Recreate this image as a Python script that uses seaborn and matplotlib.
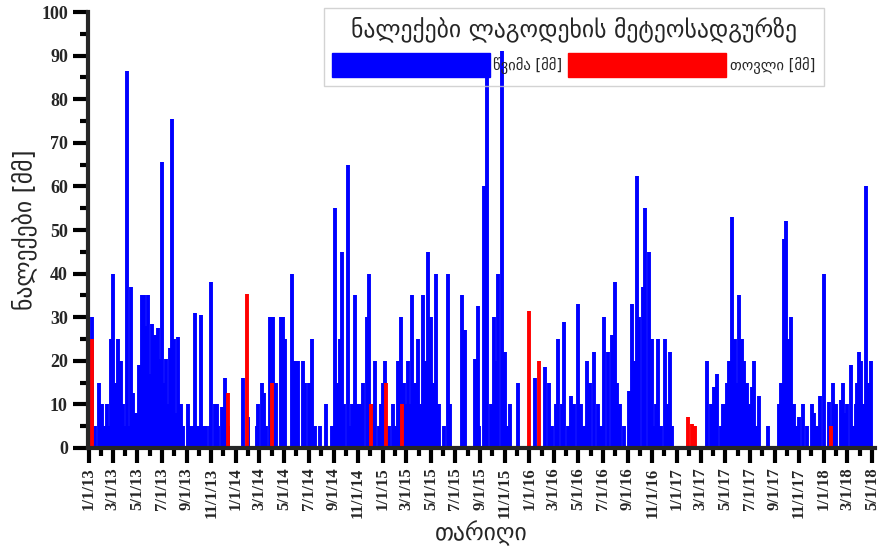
import numpy as np
import pandas as pd
import seaborn as sns
import matplotlib.pyplot as plt
import matplotlib.dates as mdates
from matplotlib.ticker import MultipleLocator
from matplotlib.patches import Patch

# daily precipitation events (days counted from 1 Jan 2013)
start = pd.Timestamp('2013-01-01')

rain_day = [7, 15, 25, 32, 40, 45, 52, 56, 60, 63, 66, 73, 79, 83, 86, 90, 96, 100, 104, 110,
            115, 118, 124, 128, 133, 137, 141, 146, 152, 156, 160, 164, 168, 172, 177, 182, 186,
            192, 196, 201, 206, 212, 217, 222, 228, 233, 246, 254, 258, 264, 268, 272, 279, 284,
            290, 300, 303, 313, 318, 320, 330, 338, 347, 384, 396, 417, 421, 430, 435, 440, 450,
            458, 465, 477, 482, 488, 506, 512, 519, 532, 537, 546, 555, 562, 575, 590, 604, 612,
            619, 623, 629, 635, 643, 649, 655, 662, 670, 676, 682, 691, 697, 705, 711, 720, 725,
            730, 736, 747, 755, 760, 768, 772, 776, 784, 788, 793, 800, 804, 810, 817, 823, 830,
            836, 842, 846, 851, 857, 863, 870, 883, 892, 898, 927, 935, 960, 966, 970, 981, 989,
            1000, 1006, 1012, 1018, 1027, 1033, 1040, 1046, 1066, 1108, 1133, 1144, 1150, 1160,
            1167, 1175, 1182, 1191, 1199, 1206, 1216, 1224, 1230, 1238, 1246, 1256, 1265, 1272,
            1279, 1289, 1300, 1307, 1313, 1320, 1330, 1343, 1350, 1355, 1361, 1367, 1376, 1383,
            1391, 1395, 1400, 1406, 1410, 1415, 1423, 1431, 1437, 1443, 1450, 1537, 1547, 1553,
            1562, 1570, 1575, 1580, 1586, 1592, 1597, 1605, 1610, 1615, 1622, 1628, 1635, 1640,
            1647, 1652, 1657, 1665, 1687, 1715, 1720, 1727, 1733, 1738, 1744, 1752, 1760, 1764,
            1774, 1785, 1796, 1802, 1810, 1817, 1827, 1839, 1850, 1857, 1868, 1874, 1880, 1885,
            1893, 1899, 1906, 1910, 1914, 1920, 1925, 1930, 1936, 1940, 1944]
rain_mm = [30, 5, 15, 10, 5, 10, 5, 25, 40, 8, 15, 25, 20, 5, 10, 5, 86.5, 5, 37, 12.5,
           5, 8, 19, 10, 35, 35, 28, 35, 17, 28.5, 10, 26, 12, 27.5, 20.5, 65.5, 15,
           20.5, 10, 23, 75.5, 25, 8, 25.5, 10, 5, 10, 5, 5, 31, 5, 5, 30.5, 5,
           5, 5, 38, 10, 10, 5, 9.5, 16, 5, 16, 7, 5, 10, 15, 12.5, 5, 30,
           30, 15, 30, 30, 25, 40, 20, 20, 20, 15, 15, 25, 5, 5, 10, 5, 55,
           15, 25, 45, 10, 65, 5, 10, 35, 10, 10, 15, 30, 40, 10, 20, 5, 10,
           15, 20, 5, 10, 5, 20, 10, 30, 15, 10, 20, 10, 35, 15, 25, 10, 35,
           20, 45, 25, 30, 15, 40, 10, 5, 40, 10, 35, 27, 20.5, 32.5, 5, 60, 88,
           10, 30, 20, 40, 91, 22, 5, 10, 15, 16, 18.5, 15, 5, 10,
           25, 10, 29, 5, 12, 10, 33, 10, 5, 20, 15, 22, 10, 5,
           30, 22, 26, 38, 15, 10, 5, 13, 33, 20, 62.5, 30, 37, 55,
           45, 15, 25, 5, 10, 25, 5, 25, 10, 22, 5, 20, 10, 14,
           17, 5, 10, 10, 15, 20, 53, 25, 15, 35, 25, 20, 15, 10,
           14, 20, 5, 12, 5, 10, 15, 48, 52, 25, 30, 10, 5, 7,
           10, 5, 10, 8, 5, 12, 40, 10.5, 15, 10, 11, 15, 8, 10,
           19, 5, 10, 15, 22, 20, 10, 60, 15, 10, 20]

snow_day = [7, 345, 394, 454, 701, 738, 779, 1094, 1119, 1488, 1498, 1506, 1845]
snow_mm = [25, 12.5, 35.3, 15, 10, 15, 10, 31.5, 20, 7, 5.5, 5, 5]

rain_label = 'წვიმა [მმ]'
snow_label = 'თოვლი [მმ]'


def stems(days, mm, kind):
    dates = start + pd.to_timedelta(days, unit='D')
    n = len(days)
    return pd.DataFrame({
        'date': np.repeat(dates.values, 2),
        'mm': np.column_stack([np.zeros(n), mm]).ravel(),
        'event': np.repeat([f'{kind}{i}' for i in range(n)], 2),
        'kind': kind,
    })


df = pd.concat([stems(rain_day, rain_mm, rain_label),
                stems(snow_day, snow_mm, snow_label)], ignore_index=True)

sns.set_style('ticks')
plt.rcParams['font.family'] = ['DejaVu Sans']

fig = plt.figure(figsize=(8.82, 5.5), dpi=100)
ax = fig.add_axes([0.0998, 0.1855, 0.892, 0.7925])

sns.lineplot(data=df, x='date', y='mm', hue='kind', units='event', estimator=None,
             palette={rain_label: 'blue', snow_label: 'red'}, linewidth=2.8,
             solid_capstyle='butt', legend=False, ax=ax)

ax.set_xlim(pd.Timestamp('2012-12-30'), pd.Timestamp('2018-05-08'))
ax.set_ylim(0, 100)

ax.xaxis.set_major_locator(mdates.MonthLocator(bymonth=[1, 3, 5, 7, 9, 11]))
ax.xaxis.set_minor_locator(mdates.MonthLocator())
ax.xaxis.set_major_formatter(mdates.DateFormatter('%-m/%-d/%y'))
ax.yaxis.set_major_locator(MultipleLocator(10))
ax.yaxis.set_minor_locator(MultipleLocator(5))

sns.despine(ax=ax)
for side in ['left', 'bottom']:
    ax.spines[side].set_linewidth(3)
ax.tick_params(which='major', length=11, width=3, color='black')
ax.tick_params(which='minor', length=6, width=3, color='black')
ax.tick_params(axis='x', which='major', rotation=90, pad=3)

for lab in ax.get_yticklabels():
    lab.set_fontfamily('Liberation Serif')
    lab.set_fontweight('bold')
    lab.set_fontsize(13)
for lab in ax.get_xticklabels():
    lab.set_fontfamily('Liberation Serif')
    lab.set_fontweight('bold')
    lab.set_fontsize(12)

ax.set_xlabel('თარიღი', fontsize=17, labelpad=2)
ax.set_ylabel('ნალექები [მმ]', fontsize=17, labelpad=3)

handles = [Patch(facecolor='blue', edgecolor='blue'), Patch(facecolor='red', edgecolor='red')]
leg = ax.legend(handles, [rain_label, snow_label], title='ნალექები ლაგოდეხის მეტეოსადგურზე',
                ncol=2, loc='upper right', bbox_to_anchor=(0.935, 1.01), fontsize=10.5,
                title_fontsize=17, handlelength=10.8, handleheight=2.1, handletextpad=0.25,
                columnspacing=0.4, fancybox=False, borderpad=0.6, borderaxespad=0)
leg.get_frame().set_facecolor('none')
leg.get_frame().set_edgecolor('#c8c8c8')
leg._legend_box.sep = 8

fig.savefig('out.png', dpi=100)
